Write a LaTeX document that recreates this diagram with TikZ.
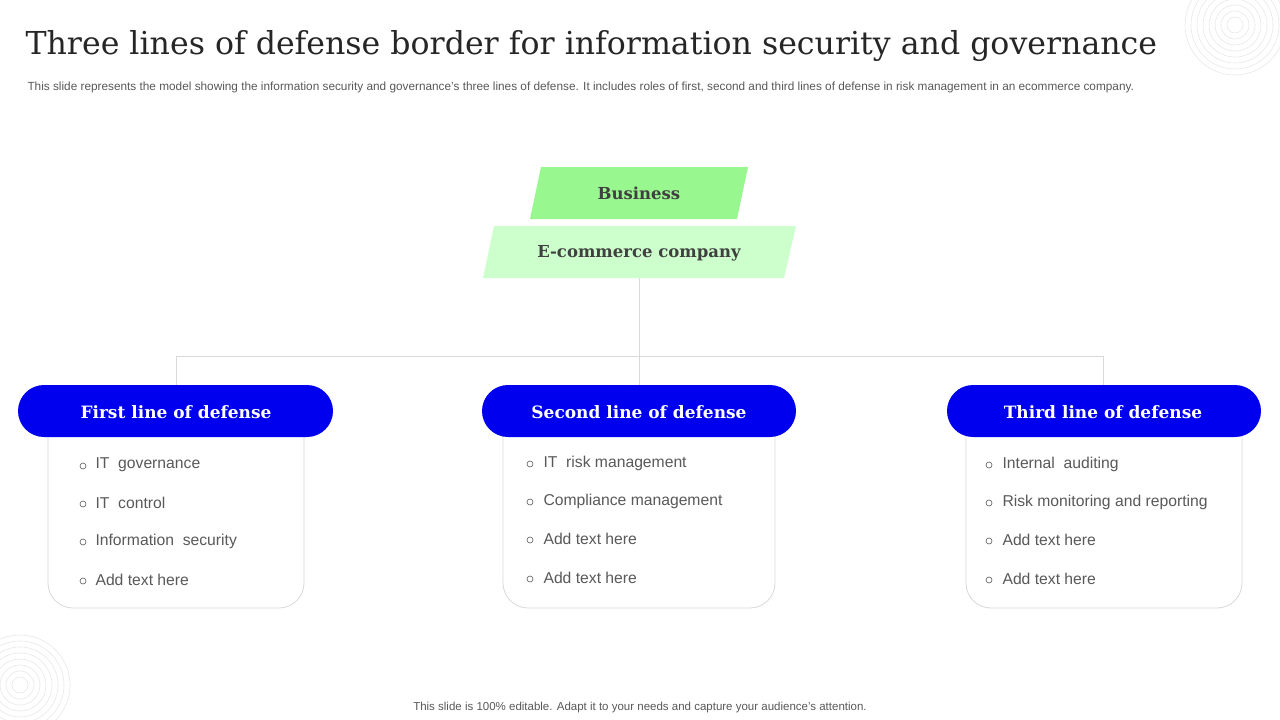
\documentclass[tikz,border=0pt]{standalone}
\usepackage{fontspec}
\setmainfont{DejaVu Serif}
\setsansfont{Liberation Sans}
\definecolor{bluepill}{HTML}{0000EE}
\definecolor{gA}{HTML}{99F78F}
\definecolor{gB}{HTML}{CCFFCC}
\definecolor{txt}{HTML}{595959}
\definecolor{lne}{HTML}{D9D9D9}
\begin{document}
\begin{tikzpicture}[x=1pt,y=-1pt,
  pill/.style={fill=bluepill,draw=none,rounded corners=26pt},
  card/.style={draw=lne,fill=white,line width=0.8pt},
  conn/.style={draw=lne,line width=0.8pt},
  head/.style={text=white,font=\bfseries\fontsize{17}{20}\selectfont},
  item/.style={anchor=west,text=txt,font=\sffamily\fontsize{15.7}{19}\selectfont},
  bul/.style={circle,draw=txt,inner sep=0pt,minimum size=6pt,line width=0.6pt},
  deco/.style={draw=lne!60,line width=0.6pt}]
\useasboundingbox (0,0) rectangle (1280,720);
\fill[white] (0,0) rectangle (1280,720);
\begin{scope}
\clip (0,0) rectangle (1280,720);
\foreach \r in {8,14,20,26,32,38,44,50}{
  \draw[deco] (1235,25) circle (\r);
  \draw[deco] (20,685) circle (\r);}
\end{scope}
\node[anchor=west,font=\fontsize{31.6}{36}\selectfont,text=black!85] (title) at (22,46) {Three lines of defense border for information security and governance};
\node[anchor=west,font=\sffamily\fontsize{11.8}{13}\selectfont,text=txt] (sub) at (24,87) {This slide represents the model showing the information security and governance's three lines of defense. It includes roles of first, second and third lines of defense in risk management in an ecommerce company.};
\fill[gA] (541,167) -- (748,167) -- (737,219) -- (530,219) -- cycle;
\node[font=\bfseries\fontsize{16.5}{20}\selectfont,text=black!75] (bus) at (639,193) {Business};
\fill[gB] (494,226) -- (796,226) -- (784,278) -- (483,278) -- cycle;
\coordinate (ecb) at (639,278);
\node[font=\bfseries\fontsize{16.5}{20}\selectfont,text=black!75] (ec) at (639,253) {E-commerce company};
\coordinate (hl) at (176,356);
\coordinate (hr) at (1103,356);
\coordinate (p1) at (176,385);
\coordinate (p2) at (639,385);
\coordinate (p3) at (1103,385);
\draw[conn] (ecb) -- (p2);
\draw[conn] (p1) -- (hl) -- (hr) -- (p3);
\draw[card,rounded corners=25pt] (48,400) -- (48,608) -- (304,608) -- (304,400);
\draw[card,rounded corners=25pt] (503,400) -- (503,608) -- (775,608) -- (775,400);
\draw[card,rounded corners=25pt] (966,400) -- (966,608) -- (1242,608) -- (1242,400);
\fill[pill] (18,385) rectangle (333,437);
\fill[pill] (482,385) rectangle (796,437);
\fill[pill] (947,385) rectangle (1261,437);
\node[head] (h1) at (176,412) {First line of defense};
\node[head] (h2) at (639,412) {Second line of defense};
\node[head] (h3) at (1103,412) {Third line of defense};
\foreach \y/\t [count=\i] in {464/IT\ \ governance,502/IT\ \ control,540/Information\ \ security,579/Add text here}{
  \node[bul] (b1\i) at (83,\y+2) {};
  \node[item] (t1\i) at (92,\y+1) {\t};}
\foreach \y/\t [count=\i] in {462/IT\ \ risk management,500/Compliance management,538/Add text here,577/Add text here}{
  \node[bul] (b2\i) at (530,\y+2) {};
  \node[item] (t2\i) at (540,\y+1) {\t};}
\foreach \y/\t [count=\i] in {463/Internal\ \ auditing,501/Risk monitoring and reporting,539/Add text here,578/Add text here}{
  \node[bul] (b3\i) at (989,\y+2) {};
  \node[item] (t3\i) at (999,\y+1) {\t};}
\node[font=\sffamily\fontsize{11.5}{13}\selectfont,text=txt] (foot) at (640,708) {This slide is 100\% editable. Adapt it to your needs and capture your audience's attention.};
\end{tikzpicture}
\end{document}
